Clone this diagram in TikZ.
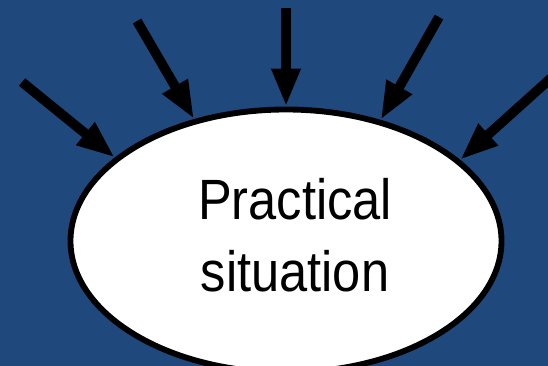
\documentclass[tikz,border=0pt]{standalone}
\usepackage{fontspec}
\usepackage{tikz}
\usetikzlibrary{
    arrows.meta,
    positioning,
    shapes.geometric
}
\newfontfamily\labelfont[FakeStretch=0.89]{Liberation Sans}
\definecolor{SlideBlue}{RGB}{31,73,125}

\begin{document}
\begin{tikzpicture}[
    x=0.03cm,
    y=-0.03cm,
    influence/.style={
        -{Triangle[length=1.14cm, width=0.81cm]},
        line width=8.3pt
    },
    situation/.style={
        ellipse,
        draw,
        fill=white,
        line width=5pt,
        minimum width=12.93cm,
        minimum height=7.89cm,
        inner sep=0pt
    }
]

\fill[SlideBlue] (0,0) rectangle (548,366);
\useasboundingbox (0,0) rectangle (548,366);
\clip (0,0) rectangle (548,366);

\node[situation] (sit) at (286,241) {};

\node[align=center, inner sep=0pt,
      font=\labelfont\fontsize{48.5}{61.4}\selectfont] (sitlabel) at (295,235)
    {Practical\\situation};

\coordinate (A) at (22,82);
\coordinate (B) at (137,21);
\coordinate (C) at (286,8);
\coordinate (D) at (439,17);
\coordinate (E) at (560,70);

\draw[influence] (A) -- (sit.154.6);
\draw[influence] (B) -- (sit.127.2);
\draw[influence] (C) -- (sit.north);
\draw[influence] (D) -- (sit.52.9);
\draw[influence] (E) -- (sit.25.5);

\end{tikzpicture}
\end{document}
